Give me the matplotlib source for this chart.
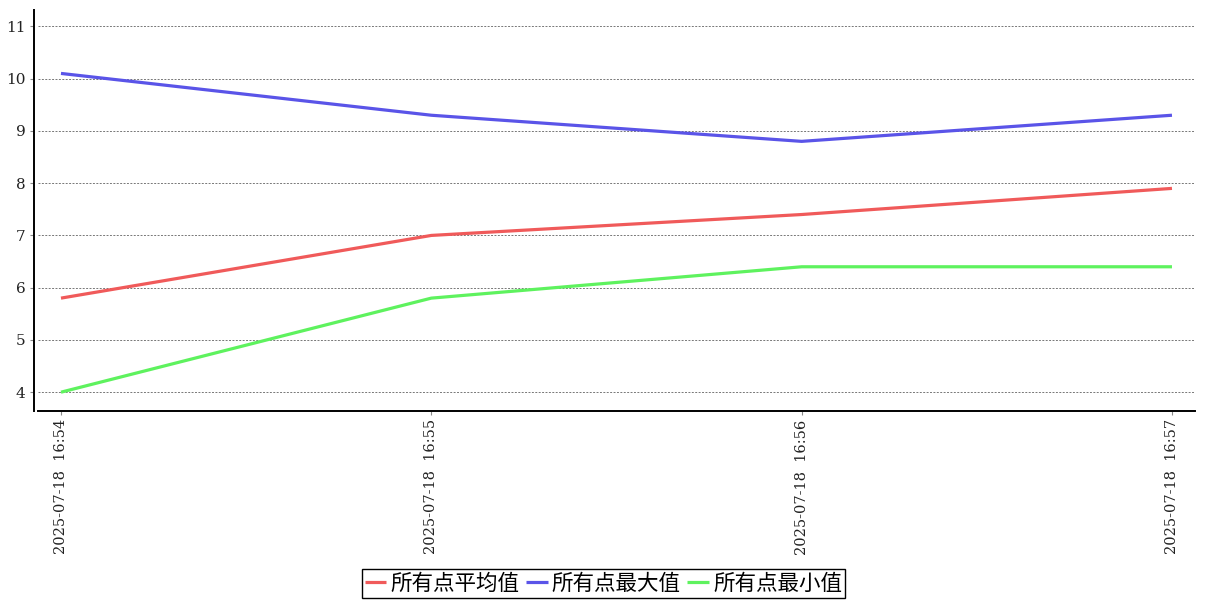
import matplotlib
matplotlib.use("Agg")
import matplotlib.pyplot as plt

plt.rcParams["font.family"] = ["DejaVu Serif"]

times = ["2025-07-18 16:54", "2025-07-18 16:55", "2025-07-18 16:56", "2025-07-18 16:57"]
avg_vals = [5.8, 7.0, 7.4, 7.9]
max_vals = [10.1, 9.3, 8.8, 9.3]
min_vals = [4.0, 5.8, 6.4, 6.4]
names = ["所有点平均值", "所有点最大值", "所有点最小值"]
colors = ["#f05a5a", "#5a54e8", "#5ef25e"]

fig = plt.figure(figsize=(12.07, 6.0), dpi=100)
ax = fig.add_axes([0.0315, 0.315, 0.9585, 0.668])

x = list(range(len(times)))
for vals, name, c in zip([avg_vals, max_vals, min_vals], names, colors):
    ax.plot(x, vals, color=c, lw=2.3, label=name, solid_capstyle="butt")

ax.set_xlim(-0.062, 3.062)
ax.set_ylim(3.64, 11.31)
ax.set_yticks(range(4, 12))
ax.set_xticks(x)
ax.set_xticklabels([t.replace(" ", "  ") for t in times], rotation=90)
ax.tick_params(axis="x", labelsize=10.5, labelcolor="#222222")
ax.tick_params(axis="y", labelsize=11, labelcolor="#222222")

ax.grid(axis="y", linestyle=(0, (2, 1.5)), color="#777777", lw=0.7)
ax.spines["top"].set_visible(False)
ax.spines["right"].set_visible(False)
ax.spines["left"].set_position(("outward", 3))
ax.spines["left"].set_linewidth(1.4)
ax.spines["bottom"].set_linewidth(1.4)
ax.tick_params(axis="both", length=3, width=0.8, color="#888888", pad=3)

leg = fig.legend(loc="lower center", bbox_to_anchor=(0.5, 0.0), ncol=3,
                 prop={"family": ["Noto Sans CJK SC", "DejaVu Sans"], "size": 15.5},
                 handlelength=1.0, handletextpad=0.2, columnspacing=0.3,
                 borderpad=0.15, borderaxespad=0.1, fancybox=False, framealpha=1)
leg.get_frame().set_edgecolor("black")
leg.get_frame().set_linewidth(1.0)

fig.savefig("out.png", dpi=100)
